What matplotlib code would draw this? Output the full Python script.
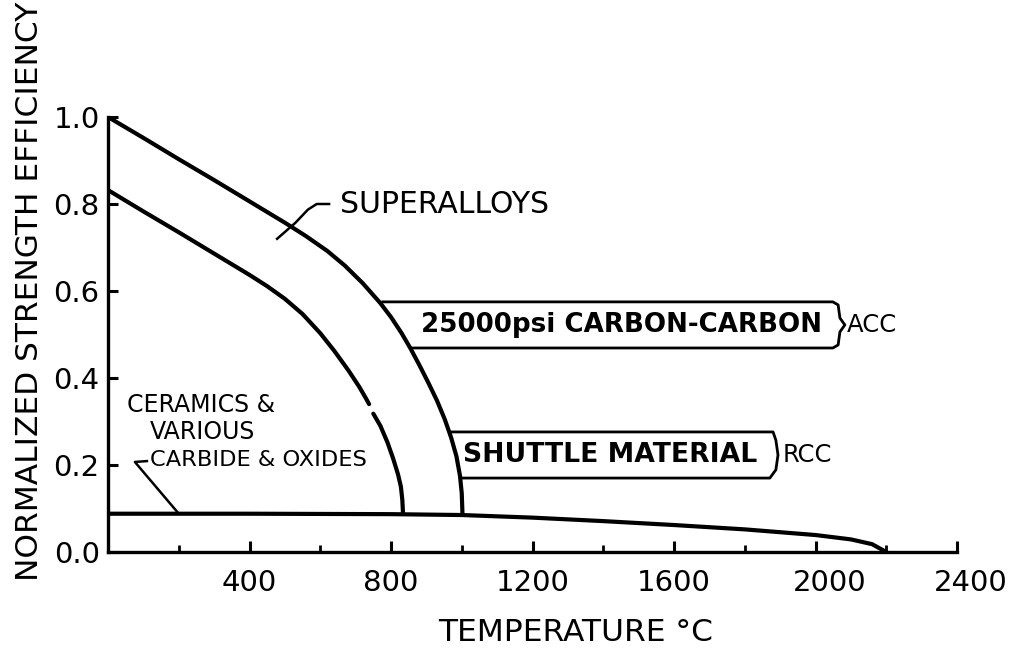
import numpy as np
import matplotlib
matplotlib.use('Agg')
import matplotlib.pyplot as plt
from matplotlib.ticker import MultipleLocator, FormatStrFormatter
from matplotlib.transforms import ScaledTranslation

plt.rcParams['font.family'] = ['DejaVu Sans']

# values
# superalloys upper bound (temperature C, normalized strength)
sa_temp = [0, 100, 200, 300, 400, 500, 560, 620, 670, 720, 770, 800, 830, 855,
           880, 905, 930, 952, 970, 985, 995, 1000, 1002]
sa_eff = [1.0, 0.952, 0.903, 0.855, 0.806, 0.757, 0.726, 0.692, 0.658, 0.618,
          0.572, 0.540, 0.503, 0.468, 0.430, 0.390, 0.348, 0.305, 0.263, 0.220,
          0.175, 0.135, 0.088]
# superalloys lower bound, drawn in two pieces (small break in the original)
lo_temp_a = [0, 100, 200, 300, 400, 450, 500, 550, 600, 640, 680, 710, 730, 738]
lo_eff_a = [0.832, 0.783, 0.735, 0.686, 0.637, 0.611, 0.582, 0.547, 0.503,
            0.462, 0.417, 0.380, 0.352, 0.340]
lo_temp_b = [750, 770, 790, 806, 820, 828, 832, 834]
lo_eff_b = [0.318, 0.290, 0.252, 0.215, 0.178, 0.150, 0.120, 0.088]
# ceramics & various carbides & oxides
cer_temp = [0, 400, 800, 1000, 1200, 1400, 1600, 1800, 2000, 2100, 2160, 2200]
cer_eff = [0.088, 0.088, 0.087, 0.085, 0.079, 0.071, 0.062, 0.052, 0.039, 0.029,
           0.018, 0.0]

# labelled boxes: (top, bottom) strength levels
acc_top, acc_bot = 0.575, 0.469
rcc_top, rcc_bot = 0.276, 0.170

fig = plt.figure(figsize=(10.23, 6.49), dpi=100)
ax = fig.add_axes([108 / 1023, 97 / 649, 849 / 1023, 435 / 649])

lw = 3.0
ax.plot(sa_temp, sa_eff, color='black', lw=lw, solid_capstyle='round')
ax.plot(lo_temp_a, lo_eff_a, color='black', lw=lw, solid_capstyle='round')
ax.plot(lo_temp_b, lo_eff_b, color='black', lw=lw, solid_capstyle='round')
ax.plot(cer_temp, cer_eff, color='black', lw=lw, solid_capstyle='round')


def on_curve(level):
    # temperature where the superalloy curve reaches this level
    return np.interp(level, sa_eff[::-1], sa_temp[::-1])


# ACC box with a brace on the right
bx = [on_curve(acc_top) + 10, 2049, 2064, 2069, 2083, 2069, 2064, 2049, on_curve(acc_bot) + 5]
by = [acc_top, acc_top, acc_top - 0.007, acc_top - 0.037, (acc_top + acc_bot) / 2,
      acc_bot + 0.037, acc_bot + 0.007, acc_bot, acc_bot]
ax.plot(bx, by, color='black', lw=2.0)

# RCC box with a round bracket on the right
rx = [on_curve(rcc_top) + 5, 1880, 1888, 1894, 1888, 1871, on_curve(rcc_bot) + 3]
ry = [rcc_top, rcc_top, rcc_top - 0.019, (rcc_top + rcc_bot) / 2, rcc_bot + 0.019,
      rcc_bot, rcc_bot]
ax.plot(rx, ry, color='black', lw=2.0)

# leaders
ax.plot([478, 530, 565, 590, 625], [0.72, 0.757, 0.787, 0.80, 0.80], color='black', lw=1.8)
ax.plot([198, 76, 110], [0.090, 0.207, 0.209], color='black', lw=1.8)

ax.text(656, 0.798, 'SUPERALLOYS', fontsize=21.5, va='center', ha='left')
ax.text(885, 0.522, '25000psi CARBON-CARBON', fontsize=18.8, fontweight='bold',
        va='center', ha='left')
ax.text(2089, 0.522, 'ACC', fontsize=17.5, va='center', ha='left')
ax.text(1003, 0.223, 'SHUTTLE MATERIAL', fontsize=19.2, fontweight='bold',
        va='center', ha='left')
ax.text(1908, 0.223, 'RCC', fontsize=17.5, va='center', ha='left')
ax.text(54, 0.338, 'CERAMICS &', fontsize=17, va='center', ha='left')
ax.text(119, 0.276, 'VARIOUS', fontsize=17, va='center', ha='left')
ax.text(119, 0.211, 'CARBIDE & OXIDES', fontsize=16.2, va='center', ha='left')

ax.set_xlim(0, 2400)
ax.set_ylim(0, 1.0)
ax.set_xticks([400, 800, 1200, 1600, 2000, 2400])
ax.xaxis.set_minor_locator(plt.FixedLocator([200, 600, 1000, 1400, 1800, 2200]))
ax.yaxis.set_major_locator(MultipleLocator(0.2))
ax.yaxis.set_major_formatter(FormatStrFormatter('%.1f'))

for side in ['top', 'right']:
    ax.spines[side].set_visible(False)
for side in ['left', 'bottom']:
    ax.spines[side].set_linewidth(2.4)

ax.tick_params(axis='x', which='major', direction='in', length=8, width=2.2,
               labelsize=21, pad=12)
ax.tick_params(axis='x', which='minor', direction='in', length=5, width=2.0)
ax.tick_params(axis='y', which='major', direction='in', length=7, width=2.2,
               labelsize=21, pad=6)

# the last two temperature labels sit a little right of their ticks
for lab in ax.get_xticklabels()[-2:]:
    lab.set_transform(lab.get_transform() + ScaledTranslation(0.14, 0, fig.dpi_scale_trans))

ax.set_xlabel('TEMPERATURE °C', fontsize=22.5, va='center', ha='center')
ax.xaxis.set_label_coords(0.551, -0.184)
ax.set_ylabel('NORMALIZED STRENGTH EFFICIENCY', fontsize=22.5, va='center', ha='center')
ax.yaxis.set_label_coords(-0.092, 0.6)

fig.savefig('out.png', dpi=100)
